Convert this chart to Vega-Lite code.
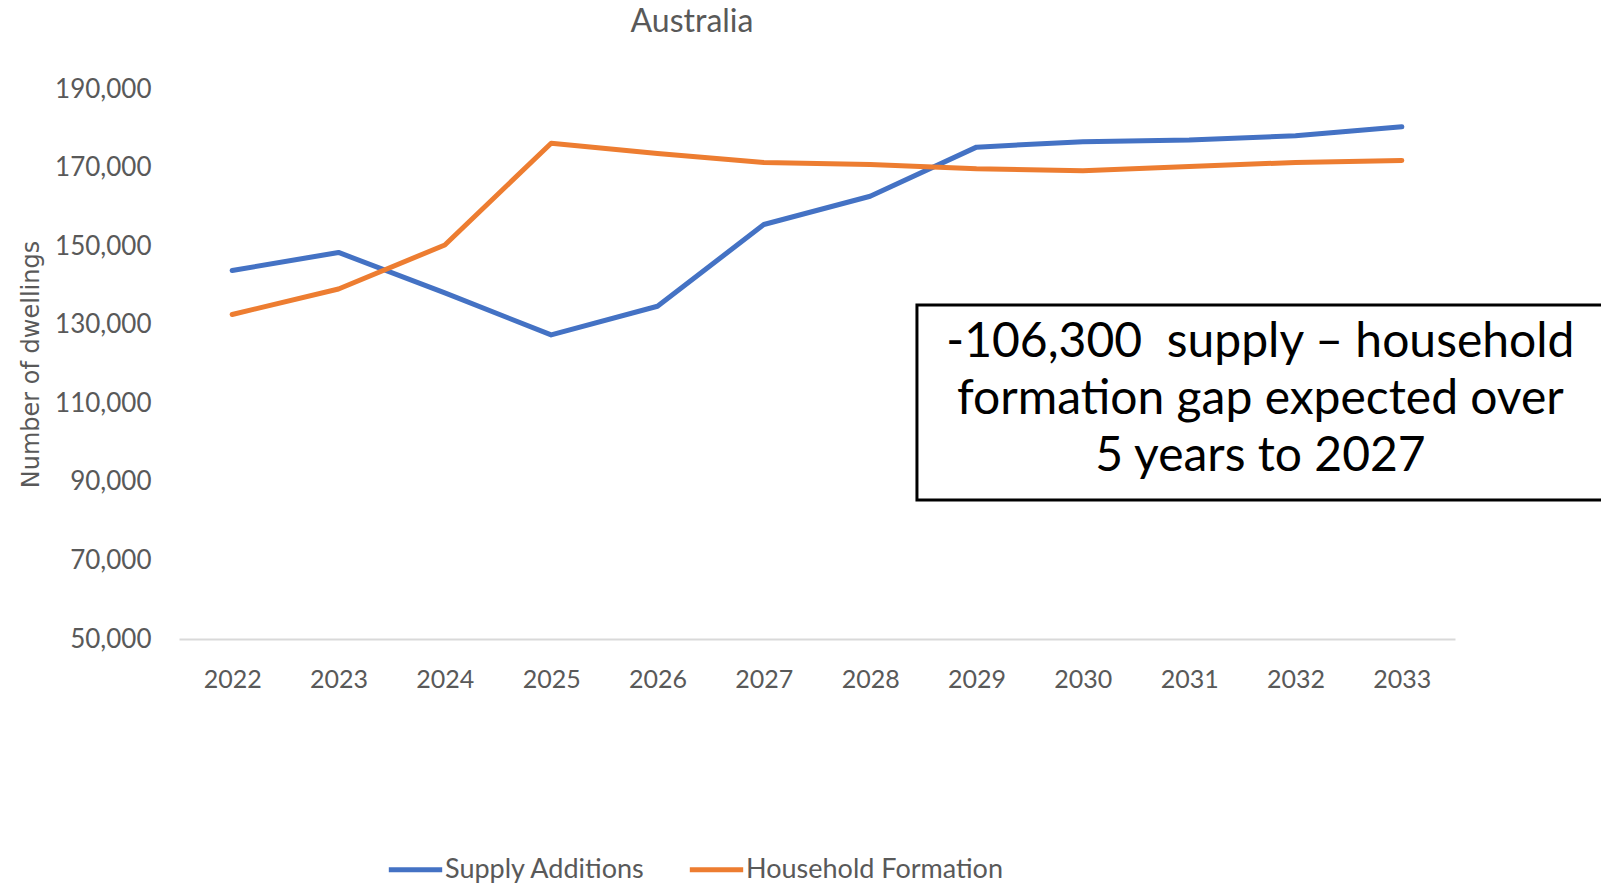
{
  "$schema": "https://vega.github.io/schema/vega-lite/v6.json",
  "autosize": {"type": "none"},
  "padding": {"left": 179, "top": 89, "right": 146, "bottom": 250},
  "width": 1276,
  "height": 550,
  "background": "white",
  "title": {
    "text": "Australia",
    "font": "Lato",
    "fontSize": 32,
    "fontWeight": "normal",
    "color": "#595959",
    "anchor": "middle",
    "dx": -125,
    "offset": 37
  },
  "config": {
    "view": {"stroke": null},
    "font": "Lato"
  },
  "layer": [
    {
      "data": {
        "values": [
          {"year": 2022, "series": "Supply Additions", "value": 143800},
          {"year": 2023, "series": "Supply Additions", "value": 148400},
          {"year": 2024, "series": "Supply Additions", "value": 138100},
          {"year": 2025, "series": "Supply Additions", "value": 127400},
          {"year": 2026, "series": "Supply Additions", "value": 134700},
          {"year": 2027, "series": "Supply Additions", "value": 155500},
          {"year": 2028, "series": "Supply Additions", "value": 162700},
          {"year": 2029, "series": "Supply Additions", "value": 175200},
          {"year": 2030, "series": "Supply Additions", "value": 176600},
          {"year": 2031, "series": "Supply Additions", "value": 177000},
          {"year": 2032, "series": "Supply Additions", "value": 178100},
          {"year": 2033, "series": "Supply Additions", "value": 180400},
          {"year": 2022, "series": "Household Formation", "value": 132600},
          {"year": 2023, "series": "Household Formation", "value": 139100},
          {"year": 2024, "series": "Household Formation", "value": 150300},
          {"year": 2025, "series": "Household Formation", "value": 176200},
          {"year": 2026, "series": "Household Formation", "value": 173600},
          {"year": 2027, "series": "Household Formation", "value": 171300},
          {"year": 2028, "series": "Household Formation", "value": 170800},
          {"year": 2029, "series": "Household Formation", "value": 169700},
          {"year": 2030, "series": "Household Formation", "value": 169200},
          {"year": 2031, "series": "Household Formation", "value": 170300},
          {"year": 2032, "series": "Household Formation", "value": 171300},
          {"year": 2033, "series": "Household Formation", "value": 171800}
        ]
      },
      "mark": {"type": "line", "strokeWidth": 5, "strokeCap": "round", "strokeJoin": "round"},
      "encoding": {
        "x": {
          "field": "year",
          "type": "quantitative",
          "scale": {"domain": [2021.5, 2033.5], "nice": false, "zero": false},
          "axis": {
            "title": null,
            "values": [2022, 2023, 2024, 2025, 2026, 2027, 2028, 2029, 2030, 2031, 2032, 2033],
            "format": "d",
            "grid": false,
            "ticks": false,
            "domainColor": "#D9D9D9",
            "domainWidth": 2,
            "labelFontSize": 25,
            "labelColor": "#595959",
            "labelPadding": 28,
            "labelFont": "Lato"
          }
        },
        "y": {
          "field": "value",
          "type": "quantitative",
          "scale": {"domain": [50000, 190000], "nice": false, "zero": false},
          "axis": {
            "title": "Number of dwellings",
            "titleFont": "DejaVu Sans",
            "titleFontSize": 24,
            "titleFontWeight": "normal",
            "titleColor": "#595959",
            "titleAngle": -90,
            "titleAlign": "center",
            "titleBaseline": "middle",
            "titleX": -148,
            "titleY": 275,
            "values": [50000, 70000, 90000, 110000, 130000, 150000, 170000, 190000],
            "format": ",d",
            "grid": false,
            "ticks": false,
            "domain": false,
            "labelFontSize": 26,
            "labelColor": "#595959",
            "labelPadding": 28,
            "labelFont": "Lato"
          }
        },
        "color": {
          "field": "series",
          "type": "nominal",
          "scale": {
            "domain": ["Supply Additions", "Household Formation"],
            "range": ["#4472C4", "#ED7D31"]
          },
          "legend": {
            "title": null,
            "orient": "none",
            "legendX": 207,
            "legendY": 751,
            "direction": "horizontal",
            "symbolType": "stroke",
            "symbolSize": 2850,
            "symbolStrokeWidth": 5,
            "labelFontSize": 27,
            "labelColor": "#595959",
            "labelFont": "Lato",
            "labelOffset": 0,
            "labelLimit": 0,
            "columnPadding": 33
          }
        }
      }
    },
    {
      "data": {"values": [{}]},
      "mark": {"type": "rect", "fill": "white", "stroke": "black", "strokeWidth": 3},
      "encoding": {
        "x": {"datum": 2028.44, "type": "quantitative"},
        "x2": {"datum": 2035.5},
        "y": {"datum": 135000, "type": "quantitative"},
        "y2": {"datum": 85400}
      }
    },
    {
      "data": {"values": [{"label": "-106,300\u00a0 supply – household\nformation gap expected over\n5 years to 2027"}]},
      "mark": {
        "type": "text",
        "font": "Lato",
        "fontSize": 48,
        "color": "black",
        "align": "center",
        "baseline": "middle",
        "lineBreak": "\n",
        "lineHeight": 57
      },
      "encoding": {
        "x": {"datum": 2031.67, "type": "quantitative"},
        "y": {"datum": 125350, "type": "quantitative"},
        "text": {"field": "label"}
      }
    }
  ]
}
